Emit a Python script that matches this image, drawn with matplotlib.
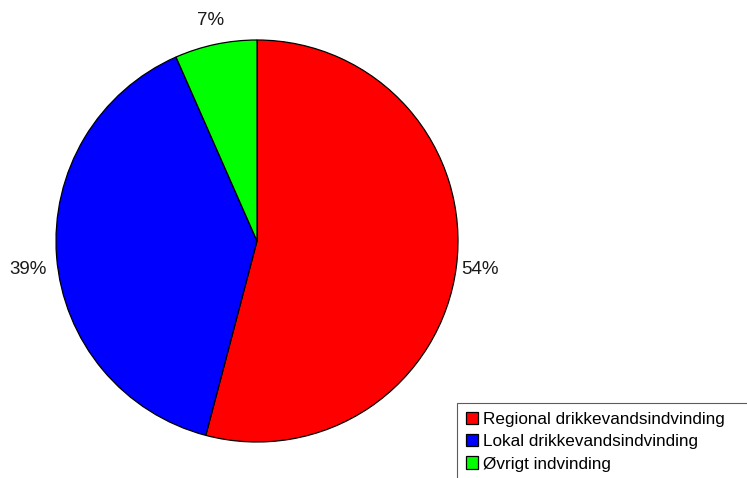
import matplotlib
matplotlib.use('Agg')
import matplotlib.pyplot as plt

labels = ['Regional drikkevandsindvinding', 'Lokal drikkevandsindvinding', 'Øvrigt indvinding']
values = [54.1, 39.3, 6.6]
pct_text = ['54%', '39%', '7%']
colors = ['#ff0000', '#0000ff', '#00ff00']

plt.rcParams['font.family'] = ['Liberation Sans', 'DejaVu Sans']

fig = plt.figure(figsize=(7.47, 4.78), dpi=100)
ax = fig.add_axes([56 / 747, 36 / 478, 402 / 747, 402 / 478])

wedges, texts = ax.pie(values, colors=colors, labels=pct_text, startangle=90,
                       counterclock=False, labeldistance=1.12,
                       wedgeprops=dict(edgecolor='black', linewidth=0.9),
                       textprops=dict(fontsize=13.5, color='#1a1a1a'))
for t in texts:
    t.set_horizontalalignment('center')
    t.set_verticalalignment('center')
# the 39% label sits a little lower in the original
texts[1].set_position((-1.14, -0.14))

ax.set_xlim(-1, 1)
ax.set_ylim(-1, 1)
ax.set_aspect('equal')
ax.axis('off')

leg = fig.legend(wedges, labels, loc='upper left',
                 bbox_to_anchor=(457 / 747, 0, 0.5, 1 - 403 / 478),
                 mode='expand',
                 fontsize=12.3, frameon=True, fancybox=False,
                 edgecolor='#333333', handlelength=0.75, handleheight=0.75,
                 handletextpad=0.3, labelspacing=0.42, borderpad=0.5,
                 borderaxespad=0)
leg.get_frame().set_linewidth(0.8)

fig.savefig('out.png', dpi=100)
